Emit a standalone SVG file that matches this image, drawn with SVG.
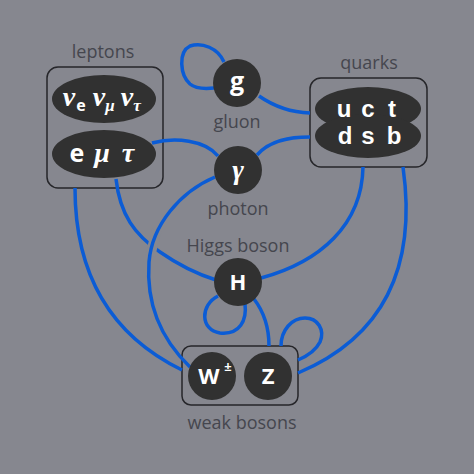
<svg xmlns="http://www.w3.org/2000/svg" width="474" height="474" viewBox="0 0 474 474">
<style>
.bg{fill:#86878f}
.box{fill:none;stroke:#26262a;stroke-width:1.5}
.node{fill:#313131}
.lbl{font-family:"Open Sans","DejaVu Sans",sans-serif;font-size:18px;fill:#45464e;text-anchor:middle}
.nt{font-family:"Open Sans","DejaVu Sans",sans-serif;font-weight:700;fill:#ffffff;text-anchor:middle}
.qt{font-family:"Liberation Sans","Arial",sans-serif;font-weight:700;fill:#ffffff;font-size:24px;text-anchor:middle}
.gr{font-family:"Liberation Serif","DejaVu Serif",serif;font-weight:700;font-style:italic;fill:#ffffff;text-anchor:middle}
.ln{fill:none;stroke:#0b5cd5;stroke-width:3.5;stroke-linecap:butt}
</style>
<rect class="bg" x="0" y="0" width="474" height="474"/>

<g id="boxes">
<rect id="leptons-box" class="box" x="47" y="67" width="116" height="121" rx="11"/>
<rect id="quarks-box" class="box" x="310" y="78" width="117" height="89" rx="11"/>
<rect id="weak-box" class="box" x="182" y="346" width="116" height="59" rx="9"/>
</g>

<g id="connectors">
<path class="ln" d="M259,96 Q282,112 310,113"/>
<path class="ln" d="M224,62 C218,48 202,42 190,46 C178,52 180,75 190,84 C196,89 205,89 214,88"/>
<path class="ln" d="M152,143 C175,137 205,140 218,156"/>
<path class="ln" d="M257,155 C270,140 290,137 310,137"/>
<path class="ln" d="M116,179 C120,215 135,235 160,252 C180,266 200,275 216,280"/>
<path d="M157,230 L150,256" stroke="#86878f" stroke-width="10" fill="none"/>
<path class="ln" d="M215,177 C180,192 152,225 149,262 C146,305 162,340 190,367"/>
<path class="ln" d="M75,188 C75,260 100,330 182,370"/>
<path class="ln" d="M261,278 C320,262 362,225 363,167"/>
<path class="ln" d="M403,167 C414,245 400,330 298,373"/>
<path class="ln" d="M218,296 C200,305 200,330 220,333 C240,335 247,320 245,304"/>
<path class="ln" d="M254,299 C264,312 269,328 269,346"/>
<path class="ln" d="M281,346 C281,330 292,318 305,318 C318,318 325,330 320,342 C315,352 305,357 298,360"/>
</g>

<g id="leptons">
<text class="lbl" x="103" y="58">leptons</text>
<ellipse class="node" cx="104" cy="99" rx="52" ry="24"/>
<text class="gr" x="69" y="106" font-size="28">ν</text>
<text class="nt" x="81" y="111" font-size="16" font-weight="400">e</text>
<text class="gr" x="99" y="106" font-size="28">ν</text>
<text class="gr" x="110" y="111" font-size="17">μ</text>
<text class="gr" x="127" y="106" font-size="28">ν</text>
<text class="gr" x="137" y="111" font-size="17">τ</text>
<ellipse class="node" cx="104" cy="154" rx="52" ry="24"/>
<text class="nt" x="77" y="162" font-size="25">e</text>
<text class="gr" x="102" y="162" font-size="28">μ</text>
<text class="gr" x="128" y="162" font-size="28">τ</text>
</g>

<g id="gluon">
<circle class="node" cx="237" cy="83" r="24"/>
<text class="nt" x="237" y="90" font-size="25">g</text>
<text class="lbl" x="237" y="128">gluon</text>
</g>

<g id="quarks">
<text class="lbl" x="369" y="69">quarks</text>
<ellipse class="node" cx="368" cy="109" rx="53" ry="22"/>
<ellipse class="node" cx="368" cy="136" rx="53" ry="22"/>
<text class="qt"><tspan x="344 368 392" y="117">uct</tspan><tspan x="345 368 394" y="144">dsb</tspan></text>
</g>

<g id="photon">
<circle class="node" cx="238" cy="170" r="24"/>
<text class="gr" x="238" y="179" font-size="28">γ</text>
<text class="lbl" x="238" y="215">photon</text>
</g>

<g id="higgs">
<text class="lbl" x="238" y="252">Higgs boson</text>
<circle class="node" cx="238" cy="282" r="24"/>
<text class="nt" x="238" y="290" font-size="22">H</text>
</g>

<g id="weak">
<circle class="node" cx="212" cy="376" r="24"/>
<text class="nt" x="209" y="384" font-size="22">W</text>
<text class="nt" x="228" y="371" font-size="13" font-weight="400">±</text>
<circle class="node" cx="268" cy="376" r="24"/>
<text class="nt" x="268" y="384" font-size="22">Z</text>
<text class="lbl" x="242" y="429">weak bosons</text>
</g>
</svg>
